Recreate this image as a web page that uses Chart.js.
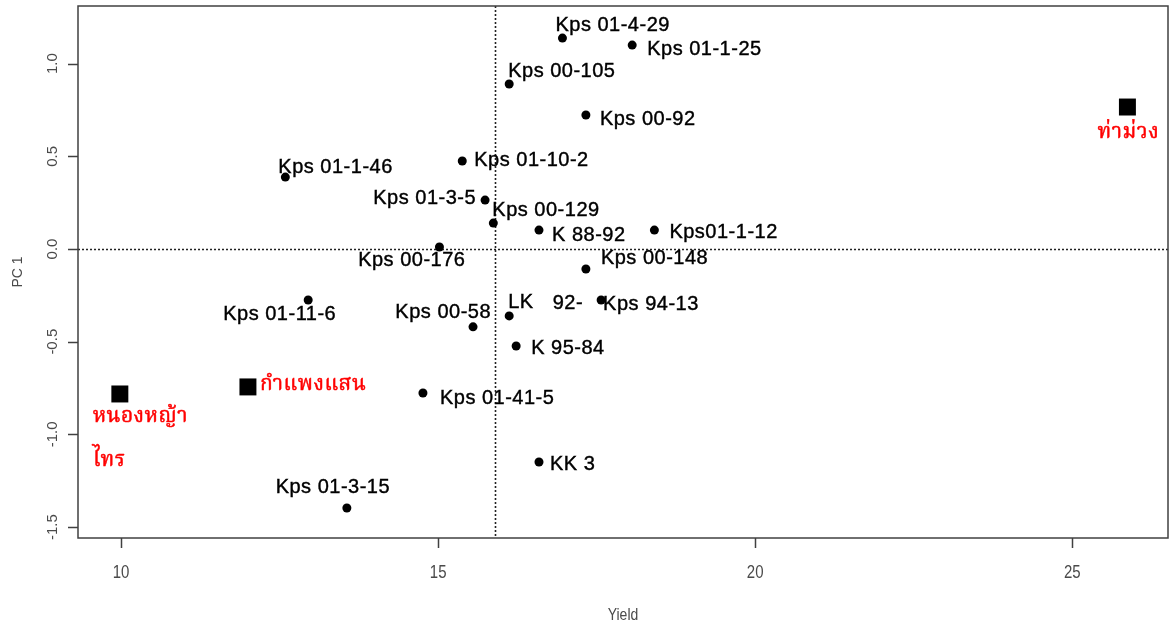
<!DOCTYPE html>
<html>
<head>
<meta charset="utf-8">
<script src="https://cdn.jsdelivr.net/npm/chart.js@4.4.1/dist/chart.umd.min.js"></script>
<style>
  html, body { margin: 0; padding: 0; background: #fff; }
  #wrap { width: 1170px; height: 628px; position: relative; }
</style>
</head>
<body>
<div id="wrap"><canvas id="pca"></canvas></div>
<script>
/* PC1 vs Yield scatter, R base-graphics look */
(function () {
  'use strict';

  // breeding lines (round dots)
  const lineNames = ['Kps 01-4-29', 'Kps 01-1-25', 'Kps 00-105', 'Kps 00-92', 'Kps 01-10-2',
    'Kps 01-1-46', 'Kps 01-3-5', 'Kps 00-129', 'K 88-92', 'Kps01-1-12', 'Kps 00-176',
    'Kps 00-148', 'Kps 94-13', 'LK', 'Kps 00-58', 'K 95-84', 'Kps 01-41-5', 'KK 3',
    'Kps 01-11-6', 'Kps 01-3-15'];
  const lineYield = [16.96, 18.06, 16.12, 17.33, 15.38, 12.59, 15.74, 15.87, 16.59, 18.41,
    15.02, 17.33, 17.57, 16.12, 15.55, 16.23, 14.76, 16.59, 12.95, 13.56];
  const linePC1 = [1.138, 1.10, 0.89, 0.723, 0.475, 0.388, 0.264, 0.14, 0.102, 0.102,
    0.011, -0.108, -0.275, -0.361, -0.42, -0.523, -0.777, -1.149, -0.275, -1.397];

  // check varieties (squares, red labels)
  const checkNames = ['หนองหญ้าไทร', 'กำแพงแสน', 'ท่าม่วง'];
  const checkYield = [9.98, 12.0, 25.87];
  const checkPC1 = [-0.782, -0.744, 0.766];

  // axes
  const xTicks = [10, 15, 20, 25];
  const xTickLabels = ['10', '15', '20', '25'];
  const yTicks = [-1.5, -1.0, -0.5, 0, 0.5, 1.0];
  const yTickLabels = ['-1.5', '-1.0', '-0.5', '0.0', '0.5', '1.0'];
  const xTitle = 'Yield';
  const yTitle = 'PC 1';
  const meanYield = 15.9;   // vertical dotted reference
  const zeroPC = 0;         // horizontal dotted reference
  const extraText = '92-';  // stray overlapping label next to Kps 94-13

  // label placement: [align, dx, dy] in px from the point (text middle)
  const place = {
    'Kps 01-4-29': ['left', -7, -13],  'Kps 01-1-25': ['left', 15, 4],
    'Kps 00-105':  ['left', -1, -13],  'Kps 00-92':   ['left', 14, 4],
    'Kps 01-10-2': ['left', 12, 0],    'Kps 01-1-46': ['left', -7, -10],
    'Kps 01-3-5':  ['right', -9, -2],  'Kps 00-129':  ['left', -1, -13],
    'K 88-92':     ['left', 13, 5],    'Kps01-1-12':  ['left', 15, 2],
    'Kps 00-176':  ['right', 26, 14],  'Kps 00-148':  ['left', 15, -11],
    'Kps 94-13':   ['left', 2, 4],     'LK':          ['left', -1, -13],
    'Kps 00-58':   ['right', 18, -14], 'K 95-84':     ['left', 15, 3],
    'Kps 01-41-5': ['left', 17, 5],    'KK 3':        ['left', 11, 2],
    'Kps 01-11-6': ['right', 28, 14],  'Kps 01-3-15': ['center', -14, -20],
  };
  const checkPlace = {
    'หนองหญ้าไทร': ['left', -27, 25],
    'กำแพงแสน':   ['left', 12, 0],
    'ท่าม่วง':     ['center', 1, 27],
  };

  const AXIS = '#404040';
  const TEXT_GREY = '#4a4a4a';
  const SANS = '"Liberation Sans", Arial, sans-serif';
  const THAI = '"Noto Serif Thai", "Noto Sans Thai", "Loma", "Garuda", serif';

  const toPts = (xs, ys) => xs.map((x, i) => ({ x, y: ys[i] }));

  function splitThai(name) {
    // the long village name wraps onto two lines in the source
    return name === 'หนองหญ้าไทร' ? ['หนองหญ้า', 'ไทร'] : [name];
  }

  function heavyText(ctx, t, x, y) {
    ctx.fillText(t, x, y);
    ctx.strokeText(t, x, y);
  }

  const rAxes = {
    id: 'rAxes',
    beforeDatasetsDraw(chart) {
      const { ctx, chartArea: a, scales: { x, y } } = chart;
      ctx.save();
      ctx.strokeStyle = '#222';
      ctx.lineWidth = 1.6;
      ctx.setLineDash([2, 2]);
      const vx = Math.round(x.getPixelForValue(meanYield)) + 0.5;
      const hy = Math.round(y.getPixelForValue(zeroPC)) + 0.5;
      ctx.beginPath();
      ctx.moveTo(vx, a.top); ctx.lineTo(vx, a.bottom);
      ctx.moveTo(a.left, hy); ctx.lineTo(a.right, hy);
      ctx.stroke();
      ctx.restore();
    },
    afterDatasetsDraw(chart) {
      const { ctx, scales: { x, y } } = chart;
      ctx.save();
      ctx.textBaseline = 'middle';
      ctx.fillStyle = '#000';
      ctx.strokeStyle = '#000';
      ctx.lineWidth = 0.4;
      ctx.font = '20px ' + SANS;
      ctx.letterSpacing = '0.5px';
      lineNames.forEach((n, i) => {
        const [al, dx, dy] = place[n];
        ctx.textAlign = al;
        heavyText(ctx, n, x.getPixelForValue(lineYield[i]) + dx, y.getPixelForValue(linePC1[i]) + dy);
      });
      const k = lineNames.indexOf('Kps 94-13');
      ctx.textAlign = 'right';
      heavyText(ctx, extraText, x.getPixelForValue(lineYield[k]) - 18, y.getPixelForValue(linePC1[k]) + 3);

      ctx.letterSpacing = '0.5px';
      ctx.fillStyle = '#ff0000';
      ctx.strokeStyle = '#ff0000';
      ctx.lineWidth = 0.5;
      ctx.font = '21px ' + THAI;
      checkNames.forEach((n, i) => {
        const [al, dx, dy] = checkPlace[n];
        ctx.textAlign = al;
        const px = x.getPixelForValue(checkYield[i]) + dx;
        const py = y.getPixelForValue(checkPC1[i]) + dy;
        splitThai(n).forEach((t, j) => heavyText(ctx, t, px, py + j * 44));
      });
      ctx.restore();
    },
    afterDraw(chart) {
      const { ctx, chartArea: a, scales: { x, y } } = chart;
      ctx.save();
      ctx.strokeStyle = AXIS;
      ctx.lineWidth = 1.5;
      ctx.strokeRect(a.left, a.top, a.right - a.left, a.bottom - a.top);

      ctx.beginPath();
      xTicks.forEach(v => {
        const px = Math.round(x.getPixelForValue(v)) + 0.5;
        ctx.moveTo(px, a.bottom); ctx.lineTo(px, a.bottom + 10);
      });
      yTicks.forEach(v => {
        const py = Math.round(y.getPixelForValue(v)) + 0.5;
        ctx.moveTo(a.left, py); ctx.lineTo(a.left - 10, py);
      });
      ctx.stroke();

      ctx.fillStyle = TEXT_GREY;
      ctx.font = '15px ' + SANS;
      ctx.textAlign = 'center';
      ctx.textBaseline = 'middle';
      xTicks.forEach((v, i) => {
        ctx.save();
        ctx.translate(x.getPixelForValue(v), a.bottom + 35);
        ctx.scale(1, 1.2);
        ctx.fillText(xTickLabels[i], 0, 0);
        ctx.restore();
      });
      yTicks.forEach((v, i) => {
        ctx.save();
        ctx.translate(a.left - 25, y.getPixelForValue(v));
        ctx.rotate(-Math.PI / 2);
        ctx.fillText(yTickLabels[i], 0, 0);
        ctx.restore();
      });

      ctx.font = '14px ' + SANS;
      ctx.save();
      ctx.translate((a.left + a.right) / 2, a.bottom + 77);
      ctx.scale(1, 1.2);
      ctx.fillText(xTitle, 0, 0);
      ctx.restore();
      ctx.save();
      ctx.translate(18, (a.top + a.bottom) / 2);
      ctx.rotate(-Math.PI / 2);
      ctx.fillText(yTitle, 0, 0);
      ctx.restore();
      ctx.restore();
    },
  };

  const hidden = { display: false };

  new Chart(document.getElementById('pca').getContext('2d'), {
    type: 'scatter',
    data: {
      datasets: [
        { label: 'lines', data: toPts(lineYield, linePC1), pointStyle: 'circle',
          pointRadius: 4.5, backgroundColor: '#000', borderWidth: 0 },
        { label: 'checks', data: toPts(checkYield, checkPC1), pointStyle: 'rect',
          pointRadius: 12, backgroundColor: '#000', borderWidth: 0 },
      ],
    },
    options: {
      responsive: true, maintainAspectRatio: false, animation: false,
      layout: { autoPadding: false, padding: { top: 6, right: 2, left: 0, bottom: 0 } },
      plugins: { legend: hidden, tooltip: { enabled: false } },
      scales: {
        x: { type: 'linear', min: 9.32, max: 26.51, ticks: hidden, grid: hidden, border: hidden,
             afterFit: (s) => { s.height = 90; } },
        y: { type: 'linear', min: -1.559, max: 1.311, ticks: hidden, grid: hidden, border: hidden,
             afterFit: (s) => { s.width = 78; } },
      },
    },
    plugins: [rAxes],
  });
})();
</script>
</body>
</html>
